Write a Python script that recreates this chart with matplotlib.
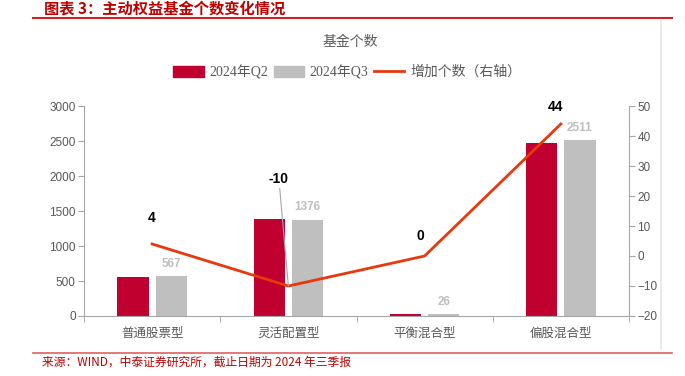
import matplotlib
matplotlib.use("Agg")
import matplotlib.pyplot as plt
from matplotlib.lines import Line2D
from matplotlib.patches import Patch
import numpy as np

plt.rcParams['font.family'] = ['Liberation Sans', 'Noto Sans CJK SC', 'DejaVu Sans']

categories = ["普通股票型", "灵活配置型", "平衡混合型", "偏股混合型"]
q2_values = [563, 1386, 26, 2467]
q3_values = [567, 1376, 26, 2511]
increase = [4, -10, 0, 44]
left_ticks = [0, 500, 1000, 1500, 2000, 2500, 3000]
right_ticks = [-20, -10, 0, 10, 20, 30, 40, 50]

RED = "#C0002F"
GRAY = "#BFBFBF"
LINE = "#E8380D"
AXIS = "#A6A6A6"
TXT = "#595959"
CJK = ['Noto Sans CJK SC', 'DejaVu Sans']
SERIF = ['Liberation Serif', 'Noto Sans CJK SC']

W, H = 685, 376
fig = plt.figure(figsize=(W / 100, H / 100), dpi=100)
ax = fig.add_axes([84 / W, 1 - 316 / H, (629 - 84) / W, (316 - 106) / H])
ax2 = ax.twinx()

x = np.arange(len(categories))
bw = 0.23
off = 0.14
ax.bar(x - off, q2_values, bw, color=RED, zorder=2)
ax.bar(x + off, q3_values, bw, color=GRAY, zorder=2)
ax.set_xlim(-0.5, len(categories) - 0.5)
ax.set_ylim(0, 3000)
ax.set_yticks(left_ticks)
ax2.set_ylim(-20, 50)
ax2.set_yticks(right_ticks)

ax2.plot(x, increase, color=LINE, lw=2, zorder=3)

for s in ["top", "right"]:
    ax.spines[s].set_visible(False)
for s in ["top", "left", "bottom"]:
    ax2.spines[s].set_visible(False)
ax.spines["left"].set_color(AXIS)
ax.spines["bottom"].set_color(AXIS)
ax2.spines["right"].set_color(AXIS)

ax.tick_params(axis="y", colors=TXT, labelsize=8.5, length=4, color=AXIS, pad=2)
ax2.tick_params(axis="y", colors=TXT, labelsize=8.5, length=4, color=AXIS, pad=2)
ax.set_xticks(x)
ax.set_xticklabels(categories, fontfamily=CJK, fontsize=9, color=TXT)
ax.tick_params(axis="x", which="major", length=0, pad=8)
ax.set_xticks(np.arange(-0.5, len(categories), 1.0), minor=True)
ax.tick_params(axis="x", which="minor", length=4, color=AXIS)

# Q3 value labels
for xi, v in zip(x, q3_values):
    ax.text(xi + off, v + 90, f"{v}", ha="center", va="bottom", fontsize=8.5,
            fontweight="bold", color=GRAY)

# increase labels
label_pos = [(0, 10.5), (-0.07, 23.5), (-0.03, 4.5), (-0.04, 47.5)]
for xi, v, (dx, ly) in zip(x, increase, label_pos):
    if v == -10:
        ax2.annotate(f"{v}", xy=(xi, v), xytext=(xi + dx, ly), ha="center",
                     va="bottom", fontsize=10, fontweight="bold", color="black",
                     arrowprops=dict(arrowstyle="-", color="#A6A6A6", lw=0.8,
                                     shrinkA=0, shrinkB=0), zorder=5)
    else:
        ax2.text(xi + dx, ly, f"{v}", ha="center", va="bottom", fontsize=10,
                 fontweight="bold", color="black")

# chart title and legend
fig.text(350 / W, 1 - 42 / H, "基金个数", ha="center", va="center",
         fontsize=10, color=TXT, fontfamily=CJK)
handles = [Patch(color=RED), Patch(color=GRAY), Line2D([], [], color=LINE, lw=2)]
labels = ["2024年Q2", "2024年Q3", "增加个数（右轴）"]
fig.legend(handles, labels, loc="center", bbox_to_anchor=(347 / W, 1 - 72 / H),
           ncol=3, frameon=False, prop={"family": SERIF, "size": 10},
           labelcolor=TXT, handlelength=2.2, handleheight=0.8, handletextpad=0.4,
           columnspacing=0.4)

# header / footer decorations
fig.add_artist(Line2D([33 / W, 672 / W], [1 - 18 / H, 1 - 18 / H], color="#D0202A", lw=1.5))
fig.add_artist(Line2D([33 / W, 672 / W], [1 - 352.5 / H, 1 - 352.5 / H], color="#E06060", lw=1.2))
fig.add_artist(Line2D([661 / W, 661 / W], [1 - 21 / H, 1 - 349 / H], color="#E6E6E6", lw=1.2))
fig.text(44 / W, 1 - 9 / H, "图表 3：主动权益基金个数变化情况", ha="left", va="center",
         fontsize=11, fontweight="bold", color="#C00000", fontfamily=CJK, style="italic")
fig.text(42 / W, 1 - 362 / H, "来源：WIND，中泰证券研究所，截止日期为 2024 年三季报", ha="left",
         va="center", fontsize=8.5, color="#C00000", fontfamily=CJK)

fig.savefig("out.png", dpi=100)
